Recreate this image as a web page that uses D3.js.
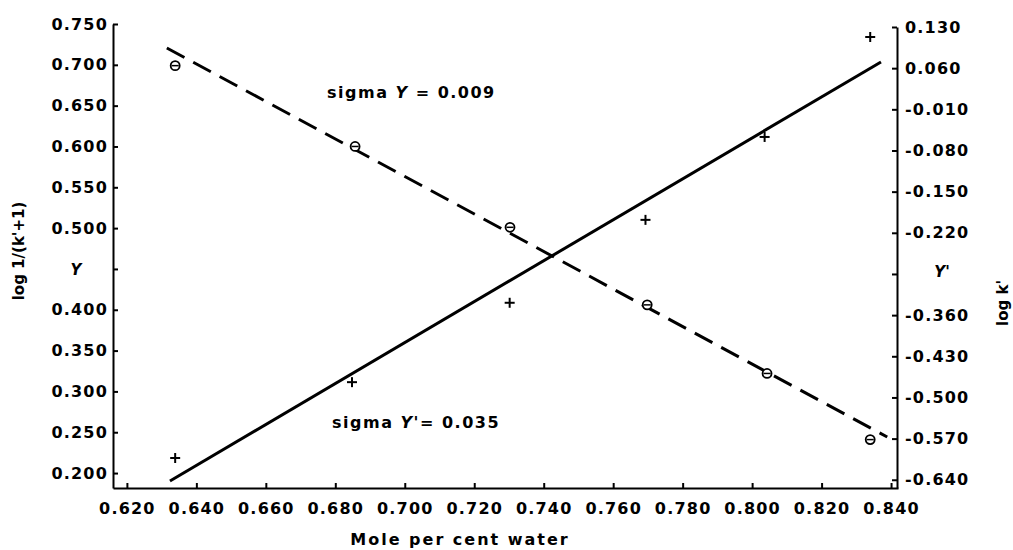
<!DOCTYPE html>
<html>
<head>
<meta charset="utf-8">
<script src="https://cdn.jsdelivr.net/npm/d3@7"></script>
<style>
  body { margin: 0; background: #fff; }
  svg text { font-family: "DejaVu Sans", sans-serif; fill: #000; font-weight: bold; }
  .tick text { font-size: 16px; letter-spacing: 1.2px; }
  .axis path, .axis line { stroke: #000; stroke-width: 2; }
</style>
</head>
<body>
<div id="chart"></div>
<script>
// x ticks (mole per cent water)
const xTicks = [0.620, 0.640, 0.660, 0.680, 0.700, 0.720, 0.740, 0.760, 0.780, 0.800, 0.820, 0.840];
// left axis: Y = log 1/(k'+1)
const yTicks = [0.200, 0.250, 0.300, 0.350, 0.400, 0.450, 0.500, 0.550, 0.600, 0.650, 0.700, 0.750];
// right axis: Y' = log k'
const y2Ticks = [-0.640, -0.570, -0.500, -0.430, -0.360, -0.290, -0.220, -0.150, -0.080, -0.010, 0.060, 0.130];

// measured points
const circleX = [0.6339, 0.6857, 0.7303, 0.7698, 0.8043, 0.8340];
const circleY = [0.699, 0.600, 0.501, 0.406, 0.322, 0.241];
const plusX = [0.6339, 0.6848, 0.7302, 0.7693, 0.8036, 0.8340];
const plusY = [-0.603, -0.474, -0.339, -0.198, -0.057, 0.113];

// fitted lines (end points)
const fitYX = [0.6315, 0.8389];
const fitYY = [0.7206, 0.2442];
const fitY2X = [0.6324, 0.8371];
const fitY2Y = [-0.642, 0.0705];

const W = 1013, H = 550;
const svg = d3.select('#chart').append('svg')
  .attr('width', W).attr('height', H);

const x = d3.scaleLinear().domain([0.616, 0.842]).range([113, 898]);
const y = d3.scaleLinear().domain([0.1817, 0.750]).range([488, 24]);
const y2 = d3.scaleLinear().domain([-0.654, 0.130]).range([488, 27]);

const f3 = d3.format('.3f');

// bottom axis
svg.append('g')
  .attr('class', 'axis')
  .attr('transform', 'translate(0,488)')
  .call(d3.axisBottom(x).tickValues(xTicks).tickFormat(f3).tickSize(-5).tickSizeOuter(0).tickPadding(12))
  .selectAll('text').attr('dy', '0.85em');

// left axis
svg.append('g')
  .attr('class', 'axis')
  .attr('transform', 'translate(113,0)')
  .call(d3.axisLeft(y).tickValues(yTicks)
    .tickFormat(d => Math.abs(d - 0.450) < 1e-9 ? '' : f3(d))
    .tickSize(-5).tickSizeOuter(0).tickPadding(5));

// right axis
svg.append('g')
  .attr('class', 'axis')
  .attr('transform', 'translate(897,0)')
  .call(d3.axisRight(y2).tickValues(y2Ticks)
    .tickFormat(d => Math.abs(d + 0.290) < 1e-9 ? '' : (d < 0 ? '-' + f3(-d) : f3(d)))
    .tickSize(-5).tickSizeOuter(0).tickPadding(8));

// fitted lines
const lineY = d3.line().x(d => x(d[0])).y(d => y(d[1]));
const lineY2 = d3.line().x(d => x(d[0])).y(d => y2(d[1]));

svg.append('path')
  .datum(d3.zip(fitYX, fitYY))
  .attr('d', lineY)
  .attr('fill', 'none')
  .attr('stroke', '#000')
  .attr('stroke-width', 3)
  .attr('stroke-dasharray', '20,10');

svg.append('path')
  .datum(d3.zip(fitY2X, fitY2Y))
  .attr('d', lineY2)
  .attr('fill', 'none')
  .attr('stroke', '#000')
  .attr('stroke-width', 3);

// circle markers (Y)
const circ = svg.append('g').selectAll('g')
  .data(d3.zip(circleX, circleY))
  .join('g')
  .attr('transform', d => `translate(${x(d[0])},${y(d[1])})`);
circ.append('circle').attr('r', 4.5).attr('fill', '#fff').attr('stroke', '#000').attr('stroke-width', 1.8);
circ.append('line').attr('x1', -3.5).attr('x2', 3.5).attr('stroke', '#000').attr('stroke-width', 1.5);

// plus markers (Y')
const plus = svg.append('g').selectAll('g')
  .data(d3.zip(plusX, plusY))
  .join('g')
  .attr('transform', d => `translate(${x(d[0])},${y2(d[1])})`);
plus.append('line').attr('x1', -5).attr('x2', 5).attr('stroke', '#000').attr('stroke-width', 2);
plus.append('line').attr('y1', -5).attr('y2', 5).attr('stroke', '#000').attr('stroke-width', 2);

// annotations
svg.append('text').attr('x', 327).attr('y', 98).attr('font-size', 16).attr('letter-spacing', 1.5)
  .html('sigma <tspan font-style="italic">Y</tspan> = 0.009');
svg.append('text').attr('x', 332).attr('y', 428).attr('font-size', 16).attr('letter-spacing', 1.5)
  .html("sigma <tspan font-style=\"italic\">Y'</tspan>= 0.035");

// axis titles
svg.append('text').attr('x', 76).attr('y', 275).attr('text-anchor', 'middle')
  .attr('font-size', 15).attr('font-style', 'italic').text('Y');
svg.append('text').attr('x', 942).attr('y', 277).attr('text-anchor', 'middle')
  .attr('font-size', 15).attr('font-style', 'italic').text("Y'");

svg.append('text')
  .attr('transform', 'translate(24,251) rotate(-90)')
  .attr('text-anchor', 'middle').attr('font-size', 15)
  .text("log 1/(k'+1)");
svg.append('text')
  .attr('transform', 'translate(1008,303) rotate(-90)')
  .attr('text-anchor', 'middle').attr('font-size', 15)
  .text("log k'");

svg.append('text')
  .attr('x', 460).attr('y', 545)
  .attr('text-anchor', 'middle').attr('font-size', 16).attr('letter-spacing', 2)
  .text('Mole per cent water');
</script>
</body>
</html>
